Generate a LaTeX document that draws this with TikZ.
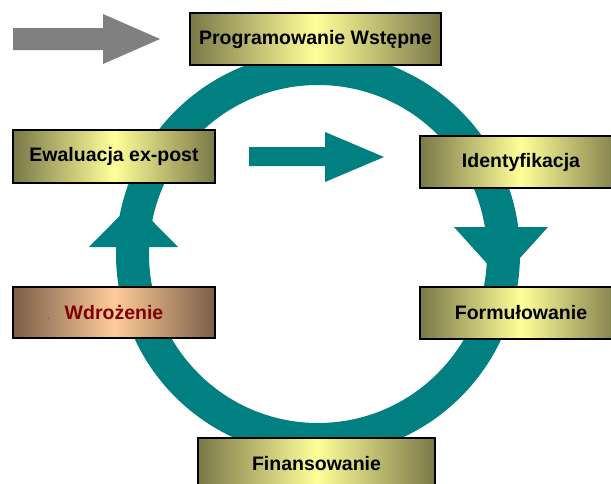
\documentclass[tikz,border=0pt]{standalone}
\usepackage{fontspec}
\setmainfont{Liberation Sans}
\definecolor{ringc}{HTML}{008080}
\definecolor{olive}{HTML}{7A7848}
\definecolor{paleY}{HTML}{FFFF99}
\definecolor{brownE}{HTML}{7A5E48}
\definecolor{peach}{HTML}{FFCC99}
\definecolor{grayA}{HTML}{808080}
\definecolor{darkred}{HTML}{800000}
\tikzset{
  stagebox/.style={draw=black, line width=2pt, inner sep=0pt,
    left color=olive, right color=olive, middle color=paleY,
    font=\fontsize{19.5}{21}\selectfont\bfseries, text=black},
  brownbox/.style={stagebox, left color=brownE, right color=brownE, middle color=peach, text=darkred}
}
\begin{document}
\begin{tikzpicture}[x=1pt,y=-1pt]
\clip (0,0) rectangle (611,483);
\fill[white] (0,0) rectangle (611,483);
% ring
\coordinate (c) at (318,254);
\fill[ringc, even odd rule] (c) circle (202pt) (c) circle (169pt);
% ring arrowheads
\fill[ringc] (454,227) -- (548,227) -- (501,279) -- cycle;
\fill[ringc] (89,247) -- (178,247) -- (133.5,202) -- cycle;
% middle teal arrow
\fill[ringc] (249,147) -- (325,147) -- (325,132) -- (384,157) -- (325,182) -- (325,166) -- (249,166) -- cycle;
% gray arrow
\fill[grayA] (13,28) -- (103,28) -- (103,14) -- (160,39) -- (103,64) -- (103,50) -- (13,50) -- cycle;
% boxes
\node[stagebox, minimum width=251pt, minimum height=52pt] (prog) at (315.5,39) {Programowanie Wstępne};
\node[stagebox, minimum width=202pt, minimum height=53pt] (ewal) at (114,156.5) {Ewaluacja ex-post};
\node[stagebox, minimum width=202pt, minimum height=52pt] (ident) at (521,162) {Identyfikacja};
\node[brownbox, minimum width=202pt, minimum height=51pt] (wdroz) at (114,312.5) {Wdrożenie};
\node[font=\fontsize{6}{6}\selectfont, inner sep=0pt] (dot) at (49,319) {.};
\node[stagebox, minimum width=202pt, minimum height=52pt] (form) at (521,313) {Formułowanie};
\node[stagebox, minimum width=237pt, minimum height=52pt] (fin) at (316.5,464) {Finansowanie};
\end{tikzpicture}
\end{document}
